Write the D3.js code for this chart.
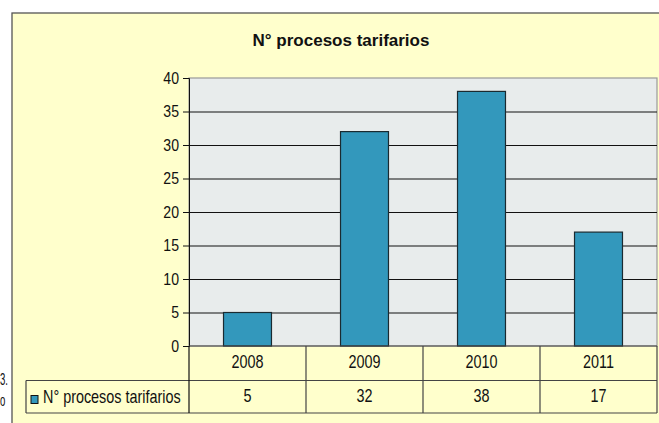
<!DOCTYPE html>
<html><head><meta charset="utf-8">
<script src="https://cdn.jsdelivr.net/npm/d3@7"></script>
<style>body{margin:0;background:#fff;}svg{display:block;font-family:"Liberation Sans",Arial,sans-serif;}</style>
</head><body>
<svg id="c" width="659" height="423"></svg>
<script>
const categories = ["2008", "2009", "2010", "2011"];
const values = [5, 32, 38, 17];
const yTicks = [0, 5, 10, 15, 20, 25, 30, 35, 40];
const seriesName = "N° procesos tarifarios";
const title = "N° procesos tarifarios";

const svg = d3.select("#c");
function ctext(g, x, y, size, sx, str, anchor) {
  return g.append("text").attr("transform", `translate(${x},${y}) scale(${sx},1)`)
    .attr("font-size", size).attr("fill", "#111").attr("text-anchor", anchor || "start").text(str);
}
// outside text fragments
ctext(svg, 0, 385, 16, 0.6, "3.");
ctext(svg, 0, 406, 16, 0.6, "o");

// frame
svg.append("rect").attr("x", 12).attr("y", 13).attr("width", 660).attr("height", 420)
  .attr("fill", "#FFFFCC").attr("stroke", "#555").attr("stroke-width", 1.3);

svg.append("text").attr("x", 341).attr("y", 46).attr("text-anchor", "middle")
  .attr("font-size", 17).attr("font-weight", "bold").attr("fill", "#111").text(title);

const L = 189, R = 657, T = 78, B = 346;
const x = d3.scaleBand().domain(categories).range([L, R]).paddingInner(0.59).paddingOuter(0.295);
const xc = d3.scaleBand().domain(categories).range([L, R]);
const y = d3.scaleLinear().domain([0, 40]).range([B, T]);

svg.append("rect").attr("x", L).attr("y", T).attr("width", R - L).attr("height", B - T)
  .attr("fill", "#E8ECEC").attr("stroke", "#999").attr("stroke-width", 1.2);

svg.append("g").selectAll("line").data(yTicks.filter(d => d > 0 && d < 40)).join("line")
  .attr("x1", L).attr("x2", R).attr("y1", d => y(d) + 0.5).attr("y2", d => y(d) + 0.5)
  .attr("stroke", "#111").attr("stroke-width", 1);

const tsx = 0.88;
const ax = svg.append("g").attr("transform", `translate(${L},0)`)
  .call(d3.axisLeft(y).tickValues(yTicks).tickSize(6).tickPadding(3));
ax.select(".domain").attr("stroke", "#111");
ax.selectAll(".tick line").attr("stroke", "#111");
ax.selectAll("text").attr("font-size", 16).attr("fill", "#111")
  .attr("font-family", "Liberation Sans, Arial, sans-serif")
  .attr("x", -10 / tsx).attr("transform", `scale(${tsx},1)`);

svg.append("g").selectAll("rect").data(values).join("rect")
  .attr("x", (d, i) => x(categories[i])).attr("width", x.bandwidth())
  .attr("y", d => y(d)).attr("height", d => y(0) - y(d))
  .attr("fill", "#3398BC").attr("stroke", "#1a2a30").attr("stroke-width", 1.2);

// data table
const r1 = B, r2 = 380.5, r3 = 413;
const tg = svg.append("g").attr("stroke", "#444").attr("stroke-width", 1.2);
tg.append("line").attr("x1", L).attr("x2", R).attr("y1", r1).attr("y2", r1);
tg.append("line").attr("x1", 26).attr("x2", R).attr("y1", r2).attr("y2", r2);
tg.append("line").attr("x1", 26).attr("x2", R).attr("y1", r3).attr("y2", r3);
tg.append("line").attr("x1", 26).attr("x2", 26).attr("y1", r2).attr("y2", r3);
tg.append("line").attr("x1", L).attr("x2", L).attr("y1", r1).attr("y2", r3).attr("stroke", "#111");
tg.selectAll("line.c").data(categories.slice(1)).join("line").attr("class", "c")
  .attr("x1", d => xc(d)).attr("x2", d => xc(d)).attr("y1", r1).attr("y2", r3);
tg.append("line").attr("x1", R).attr("x2", R).attr("y1", r1).attr("y2", r3);

const sx = 0.8, fs = 18;
const g1 = svg.append("g");
categories.forEach(d => ctext(g1, xc(d) + xc.bandwidth() / 2, 368, fs, sx, d, "middle"));
values.forEach((v, i) => ctext(g1, xc(categories[i]) + xc.bandwidth() / 2, 402, fs, sx, v, "middle"));

svg.append("rect").attr("x", 31).attr("y", 395.5).attr("width", 7).attr("height", 8)
  .attr("fill", "#3398BC").attr("stroke", "#111").attr("stroke-width", 1);
ctext(svg, 43, 403, fs, sx, seriesName);
</script>
</body></html>
